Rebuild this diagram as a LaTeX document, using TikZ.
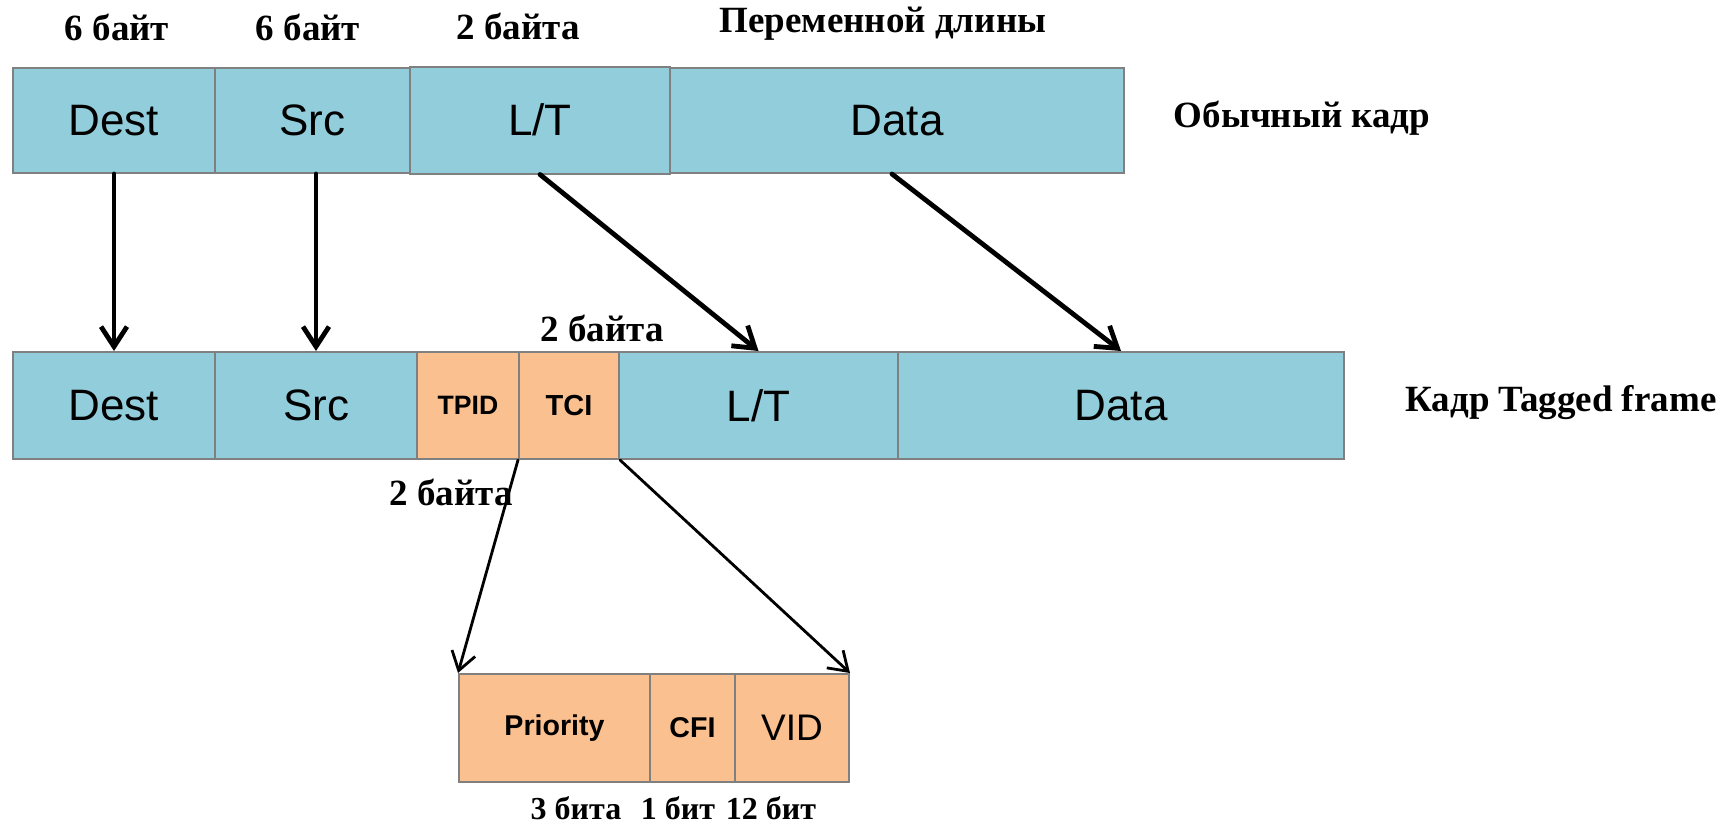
\documentclass[tikz,border=0pt]{standalone}
\usepackage{fontspec}
\setmainfont{Liberation Serif}
\newfontfamily\arialfont{Liberation Sans}
\usetikzlibrary{arrows.meta}
\definecolor{fieldblue}{RGB}{146,205,220}
\definecolor{fieldorange}{RGB}{250,192,144}
\definecolor{fieldedge}{RGB}{128,128,128}
\tikzset{
  field/.style={draw=fieldedge, line width=1pt, inner sep=0pt, anchor=center,
    font=\arialfont\fontsize{22}{24}\selectfont},
  bluefield/.style={field, fill=fieldblue},
  orangefield/.style={field, fill=fieldorange},
  tagtext/.style={font=\arialfont\bfseries\fontsize{13.3}{15}\selectfont},
  bittext/.style={font=\arialfont\bfseries\fontsize{14.3}{16}\selectfont},
  caption/.style={inner sep=0pt, font=\bfseries\fontsize{18.5}{21}\selectfont},
  bitcaption/.style={inner sep=0pt, font=\bfseries\fontsize{16}{18}\selectfont},
  bigarrow/.style={line width=2.4pt, line cap=round, -{Straight Barb[length=10pt, width=13pt, line width=2.4pt]}},
  smallarrow/.style={line width=1.4pt, line cap=round, -{Straight Barb[length=9pt, width=12pt, line width=1.4pt]}}
}
\begin{document}
\begin{tikzpicture}[x=0.5pt, y=-0.5pt]
\useasboundingbox (0,0) rectangle (1727,826);

% ordinary frame
\node[bluefield, minimum width=101pt, minimum height=52.5pt] (dest1) at (114,120.5) {Dest};
\node[bluefield, minimum width=97.5pt, minimum height=52.5pt] (src1) at (312.5,120.5) {Src};
\node[bluefield, minimum width=130pt, minimum height=53.5pt] (lt1) at (540,120) {L/T};
\node[bluefield, minimum width=227pt, minimum height=52.5pt] (data1) at (897,120.5) {Data};

% tagged frame
\node[bluefield, minimum width=101pt, minimum height=53.5pt] (dest2) at (114,405.5) {Dest};
\node[bluefield, minimum width=101pt, minimum height=53.5pt] (src2) at (316,405.5) {Src};
\node[orangefield, minimum width=51pt, minimum height=53.5pt, tagtext] (tpid) at (468,405.5) {TPID};
\node[orangefield, minimum width=50pt, minimum height=53.5pt, font=\arialfont\bfseries\fontsize{14.5}{16}\selectfont] (tci) at (569,405.5) {TCI};
\node[bluefield, minimum width=139.5pt, minimum height=53.5pt] (lt2) at (758.5,405.5) {L/T};
\node[bluefield, minimum width=223pt, minimum height=53.5pt] (data2) at (1121,405.5) {Data};

% TCI breakdown
\node[orangefield, minimum width=95.5pt, minimum height=54pt, bittext] (prio) at (554.5,728) {Priority};
\node[orangefield, minimum width=42.5pt, minimum height=54pt, bittext] (cfi) at (692.5,728) {CFI};
\node[orangefield, minimum width=57pt, minimum height=54pt, font=\arialfont\fontsize{18.5}{20}\selectfont] (vid) at (792,728) {VID};

% field sizes and frame names
\node[caption] (c1) at (117,27) {6 байт};
\node[caption] (c2) at (308,27) {6 байт};
\node[caption] (c3) at (518,26) {2 байта};
\node[caption] (c4) at (883,24) {Переменной длины};
\node[caption] (n1) at (1302,118) {Обычный кадр};
\node[caption] (c5) at (602,328) {2 байта};
\node[caption] (c6) at (451,492) {2 байта};
\node[caption] (n2) at (1561,403) {Кадр Tagged frame};
\node[bitcaption] (b1) at (576,808) {3 бита};
\node[bitcaption] (b2) at (678,808) {1 бит};
\node[bitcaption] (b3) at (771,808) {12 бит};

% mapping arrows
\draw[bigarrow] (dest1.south) -- (dest2.north);
\draw[bigarrow] (src2.north |- src1.south) -- (src2.north);
\draw[bigarrow] (lt1.south) -- (lt2.north);
\draw[bigarrow] ([xshift=-2.5pt]data1.south) -- (data2.north);
\draw[smallarrow] (tci.south west) -- (prio.north west);
\draw[smallarrow] (tci.south east) -- (vid.north east);
\end{tikzpicture}
\end{document}
